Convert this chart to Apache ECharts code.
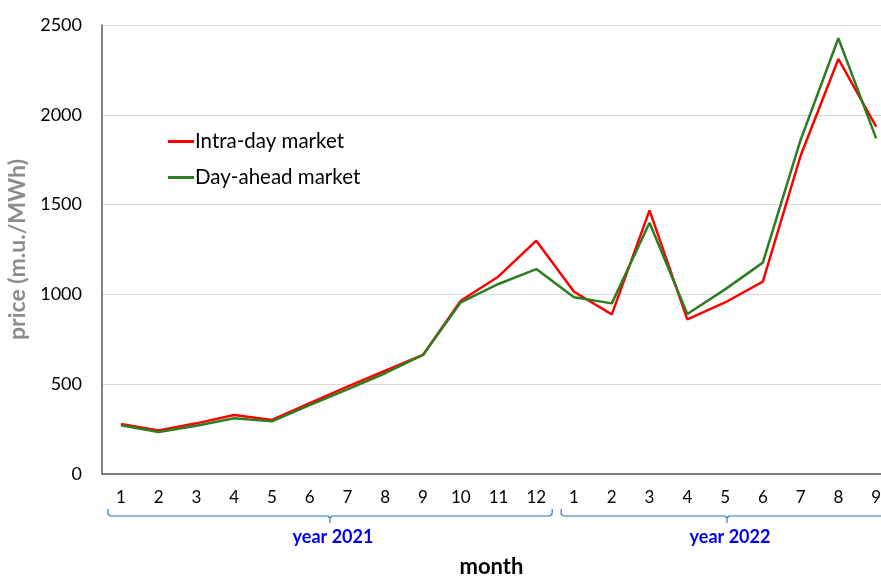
<!DOCTYPE html>
<html>
<head>
<meta charset="utf-8">
<script src="https://cdn.jsdelivr.net/npm/echarts@6/dist/echarts.min.js"></script>
<style>
  html, body { margin: 0; padding: 0; background: #fff; }
  #main { width: 881px; height: 579px; }
</style>
</head>
<body>
<div id="main"></div>
<script>
// month labels, 2021 (1-12) then 2022 (1-9)
var months = ['1','2','3','4','5','6','7','8','9','10','11','12','1','2','3','4','5','6','7','8','9'];
var years = ['year 2021', 'year 2022'];
var monthsPerYear = [12, 9];

var intraDay = [278, 242, 282, 328, 301, 394, 486, 575, 663, 965, 1100, 1299,
                1015, 889, 1468, 861, 955, 1071, 1772, 2311, 1934];
var dayAhead = [271, 234, 269, 310, 293, 384, 471, 561, 663, 956, 1058, 1141,
                984, 950, 1399, 891, 1028, 1177, 1860, 2426, 1869];

var FONT = 'Lato, "Liberation Sans", sans-serif';

var myChart = echarts.init(document.getElementById('main'));
var option = {
  animation: false,
  textStyle: { fontFamily: FONT },
  legend: {
    orient: 'vertical',
    left: 163,
    top: 126,
    itemGap: 15,
    itemWidth: 26,
    itemHeight: 3,
    icon: 'rect',
    textStyle: { fontSize: 20.5, color: '#000', fontFamily: FONT, padding: [0, 0, 0, -4] },
    data: ['Intra-day market', 'Day-ahead market']
  },
  grid: {
    left: 102,
    width: 793,
    top: 25,
    bottom: 105,
    outerBoundsMode: 'none',
    containLabel: false
  },
  xAxis: {
    type: 'category',
    data: months,
    boundaryGap: true,
    axisLine: { lineStyle: { color: '#595959', width: 1.5 } },
    axisTick: { show: false },
    axisLabel: { fontSize: 17, color: '#000', margin: 15, interval: 0 },
    name: 'month',
    nameLocation: 'middle',
    nameGap: 82,
    nameTextStyle: { fontSize: 22, fontWeight: 'bold', color: '#000', padding: [0, 14, 0, 0] }
  },
  yAxis: {
    type: 'value',
    min: 0,
    max: 2500,
    interval: 500,
    axisLine: { show: true, lineStyle: { color: '#595959', width: 1.5 } },
    axisTick: { show: false },
    splitLine: { lineStyle: { color: '#d9d9d9', width: 1 } },
    axisLabel: { fontSize: 18, color: '#000', margin: 20, formatter: function (v) { return String(v); } },
    name: 'price (m.u./MWh)',
    nameLocation: 'middle',
    nameGap: 61,
    nameTextStyle: { fontSize: 23, fontWeight: 'bold', color: '#8c8c8c' }
  },
  series: [
    {
      name: 'Intra-day market',
      type: 'line',
      data: intraDay,
      showSymbol: false,
      symbol: 'none',
      color: '#ff0000',
      lineStyle: { width: 2.5, color: '#ff0000' }
    },
    {
      name: 'Day-ahead market',
      type: 'line',
      data: dayAhead,
      showSymbol: false,
      symbol: 'none',
      color: '#2e7d22',
      lineStyle: { width: 2.5, color: '#2e7d22' }
    }
  ]
};
myChart.setOption(option);

// year brackets under the month labels
var p0 = myChart.convertToPixel({ xAxisIndex: 0 }, 0);
var p1 = myChart.convertToPixel({ xAxisIndex: 0 }, 1);
var band = p1 - p0;
var by = 516;
var graphics = [];
var start = 0;
years.forEach(function (yr, i) {
  var n = monthsPerYear[i];
  var x1 = myChart.convertToPixel({ xAxisIndex: 0 }, start) - band / 2 + 6;
  var x2 = myChart.convertToPixel({ xAxisIndex: 0 }, start + n - 1) + band / 2 - 3;
  var xm = Math.round((x1 + x2) / 2);
  graphics.push({
    type: 'polyline',
    shape: {
      points: [[x1, by - 7], [x1, by - 2], [x1 + 2, by], [xm - 2, by], [xm, by + 2], [xm, by + 7],
               [xm, by + 2], [xm + 2, by], [x2 - 2, by], [x2, by - 2], [x2, by - 7]]
    },
    style: { fill: null, stroke: '#2e75b6', lineWidth: 1.2 }
  });
  graphics.push({
    type: 'text',
    x: xm + 3,
    y: 537,
    style: {
      text: yr,
      fill: '#0000ee',
      font: 'bold 18px ' + FONT,
      textAlign: 'center',
      textVerticalAlign: 'middle'
    }
  });
  start += n;
});
myChart.setOption({ graphic: graphics });
</script>
</body>
</html>
